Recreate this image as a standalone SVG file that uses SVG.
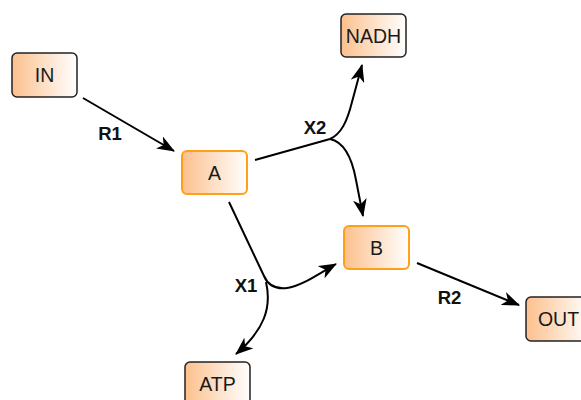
<svg xmlns="http://www.w3.org/2000/svg" width="581" height="400" viewBox="0 0 581 400">
<style>
.box{stroke-width:1.5}
.ext{stroke:#222222}
.met{stroke:#ff9f1a;stroke-width:2}
.lbl{font-family:"Liberation Sans",Arial,sans-serif;font-size:19.5px;fill:#1a1a1a;text-anchor:middle}
.rl{font-family:"Liberation Sans",Arial,sans-serif;font-size:18.5px;font-weight:bold;fill:#111;text-anchor:middle}
.edge{fill:none;stroke:#000;stroke-width:2}
</style>
<defs>
<linearGradient id="g" x1="0" y1="0" x2="1" y2="0">
<stop offset="0" stop-color="#fcc08d"/>
<stop offset="1" stop-color="#ffffff"/>
</linearGradient>
<marker id="arr" markerUnits="userSpaceOnUse" viewBox="0 0 18 14" refX="17" refY="7" markerWidth="18" markerHeight="14" orient="auto">
<path d="M18,7 L0,0 L5,7 L0,14 Z" fill="#000"/>
</marker>
</defs>
<rect width="581" height="400" fill="#ffffff"/>
<g id="connectors">
<path class="edge" d="M83,98 L174,151" marker-end="url(#arr)"/>
<path class="edge" d="M255,160 L330,139"/>
<path class="edge" d="M330,139 C341,134 347,122 352,102 L362,65" marker-end="url(#arr)"/>
<path class="edge" d="M330,139 C344,142 352,158 356,180 L363,216" marker-end="url(#arr)"/>
<path class="edge" d="M229,202 L264,276 Q270,290 287,288 C302,286 318,274 336,264" marker-end="url(#arr)"/>
<path class="edge" d="M266,282 C272,308 264,330 236,354" marker-end="url(#arr)"/>
<path class="edge" d="M417,263 L519,305" marker-end="url(#arr)"/>
<text class="rl" x="110" y="139.5">R1</text>
<text class="rl" x="315" y="134">X2</text>
<text class="rl" x="246" y="291.5">X1</text>
<text class="rl" x="449.5" y="304">R2</text>
</g>
<g id="IN"><rect class="box ext" x="12" y="53" width="65" height="44" rx="5" fill="url(#g)"/><text class="lbl" x="44.5" y="82">IN</text></g>
<g id="A"><rect class="box met" x="182" y="151" width="65" height="43" rx="5" fill="url(#g)"/><text class="lbl" x="214.5" y="179.5">A</text></g>
<g id="NADH"><rect class="box ext" x="341" y="14" width="65" height="43" rx="5" fill="url(#g)"/><text class="lbl" x="373.5" y="42.5">NADH</text></g>
<g id="B"><rect class="box met" x="344" y="226" width="65" height="43" rx="5" fill="url(#g)"/><text class="lbl" x="376.5" y="254.5">B</text></g>
<g id="ATP"><rect class="box ext" x="185" y="362" width="65" height="44" rx="5" fill="url(#g)"/><text class="lbl" x="217.5" y="391">ATP</text></g>
<g id="OUT"><rect class="box ext" x="526" y="297" width="65" height="44" rx="5" fill="url(#g)"/><text class="lbl" x="558.5" y="326">OUT</text></g>
</svg>
